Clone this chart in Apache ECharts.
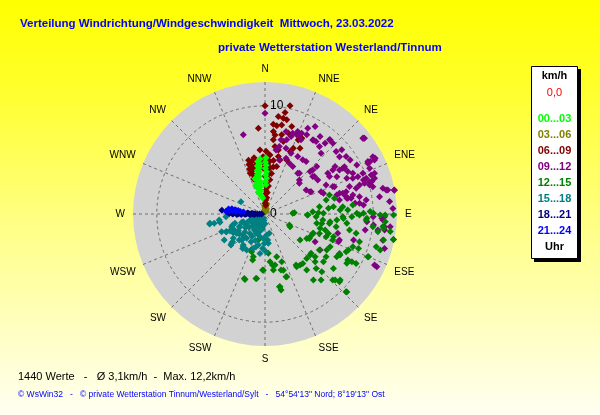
<!DOCTYPE html>
<html><head><meta charset="utf-8">
<script src="https://cdn.jsdelivr.net/npm/echarts@6/dist/echarts.min.js"></script>
<style>html,body{margin:0;padding:0;background:#fff;}#c{width:600px;height:415px;}</style>
</head><body><div id="c"></div>
<script>
// ---- texts ----
const titleLine1 = 'Verteilung Windrichtung/Windgeschwindigkeit  Mittwoch, 23.03.2022';
const titleLine2 = 'private Wetterstation Westerland/Tinnum';
const summaryText = '1440 Werte   -   \u00D8 3,1km/h  -  Max. 12,2km/h';
const footerText = '\u00A9 WsWin32   -   \u00A9 private Wetterstation Tinnum/Westerland/Sylt   -   54\u00B054\'13" Nord; 8\u00B019\'13" Ost';
const legendUnit = 'km/h';
const legendCalm = '0,0';
const legendFoot = 'Uhr';

// ---- axes ----
const directions = ['N','NNE','NE','ENE','E','ESE','SE','SSE','S','SSW','SW','WSW','W','WNW','NW','NNW'];
const radiusTicks = [0, 10];
const radiusMax = 12.2;

// ---- series: hour ranges ----
const hourLabels = ['00...03','03...06','06...09','09...12','12...15','15...18','18...21','21...24'];
const hourColors = ['#00ff00','#808000','#800000','#800080','#008000','#008080','#000080','#0000ff'];

// [speed km/h, direction deg]
const pts0003 = [[4.9,352],[4.7,354],[4.5,351],[4.3,353],[4.1,350],[3.9,352],[3.7,349],[3.5,351],[3.3,347],[3.1,349],
  [2.9,345],[2.7,348],[2.5,344],[2.3,347],[2.1,343],[1.9,346],[1.7,349],[1.5,352],[3.0,352],[2.6,351],[2.2,350],
  [3.4,344],[2.8,342],[4.8,0.5],[4.5,1.5],[4.2,0.5],[3.9,2],[3.6,1],[3.3,2.5],[3.0,1],[2.7,2],[5.1,355],[5.2,1]];
const pts0306 = [[0.15,0],[0.25,5],[0.35,355],[0.45,8],[0.55,2],[0.65,358],[0.75,6],[0.85,3],[0.95,10],[1.0,0],[0.5,15],[0.3,20]];
const pts0609 = [[10.0,0],[10.27,13],[9.56,11.2],[9.02,10.8],[9.1,7.8],[8.93,13],[8.34,5.3],[8.22,7.6],[8.38,10.6],[8.46,17],
  [7.96,355.6],[7.66,5.8],[7.37,7.2],[7.48,11.9],[7.78,16.1],[6.91,14.2],[6.9,6.4],[6.3,8.4],[6.05,11.8],[5.48,4.8],
  [5.45,13.1],[5.94,355.5],[7.5,24.2],[7.79,25.9],[6.89,28],[8.18,33.2],[6.62,23.3],[6.22,21.9],[5.39,21.9],[5.19,15.5],[4.51,13.8],
  [1.0,2],[1.3,3],[1.6,1],[1.9,3],[2.2,2],[2.5,4],[2.8,2],[3.1,4],[3.4,2],[3.7,5],[4.0,3],[4.3,6],[4.6,3],[4.9,5],[5.2,2],
  [5.5,4],[5.8,1],[2.0,6],[2.6,7],[3.2,8],[3.8,9],[4.4,10],[5.0,9],[3.5,0],[4.2,358],[4.8,357],[5.3,358],[0.8,5],[1.5,6],
  [5.2,343],[5.0,346],[4.8,342],[4.6,345],[4.4,341],[4.2,344],[4.0,340],[3.8,343],[3.6,346],[3.4,342],[5.3,349],[4.9,350],[4.5,348],[3.2,345]];
const pts0912 = [[7.01,12.2],[7.87,14.3],[7.55,18.6],[7.9,18.9],[8.2,21.6],[7.98,23.5],[7.62,25.9],[8.86,26.5],[8.15,32.8],[8.19,35.2],
  [8.01,38.9],[7.64,42.7],[9.08,41.0],[9.06,43.8],[8.75,48.7],[8.69,52.4],[9.19,54.7],[11.44,52.2],[8.55,59.2],[8.6,62.9],
  [8.95,65.1],[9.25,68.1],[9.8,67.4],[9.92,70.5],[10.46,69.8],[11.29,63.7],[11.29,62.0],[10.6,63.7],[10.55,66.4],[10.65,71.9],
  [10.11,72.8],[10.28,75.8],[9.63,72.8],[8.76,67.9],[8.21,72.0],[8.76,74.2],[7.78,74.6],[7.44,75.1],[6.76,68.0],[6.25,64.6],
  [6.89,59.9],[7.47,57.0],[8.0,59.4],[8.34,59.5],[5.8,57.2],[4.73,64.1],[4.47,45.3],[5.08,30.3],[5.2,25.7],[5.51,20.7],
  [5.17,14.9],[6.01,9.8],[6.37,12.0],[6.38,17.7],[6.11,23.2],[6.11,29.7],[6.1,34.9],[6.16,38.1],[6.01,47.3],[5.73,52.9],
  [5.58,68.3],[7.14,74.5],[7.67,77.9],[8.31,77.8],[8.88,79.6],[9.44,82.1],[11.15,77.7],[11.57,78.9],[12.15,79.5],[11.57,84.3],
  [11.83,87.5],[11.05,91.3],[11.15,97.6],[11.16,102.5],[11.5,106.1],[11.17,115.0],[7.29,109.3],[6.96,104.9],[7.79,79.3],[8.79,83.5],
  [10.0,91.4],[4.4,59.7],[4.93,40.2],
  [7.14,16.3],[7.88,21.8],[8.2,24.4],[8.27,27.8],[9.32,29.8],[8.79,35.4],[8.58,40.3],[9.12,41.3],[9.25,50.1],[11.49,52.4],
  [9.32,57.6],[9.62,61.9],[10.86,63.5],[11.41,63.2],[7.82,55.9],[6.49,47.5],[5.72,46.7],[7.48,62.5],[8.25,66.4],[9.63,70.9],
  [10.32,73.1],[7.59,344.7],[9.32,0],
  [11.56,52.7],[10.67,63],[10.8,69.6],[10.03,74.5],[9.14,73],[11.42,78.8],[12.15,79.6],[10.71,81.4],[10.91,92.9],[11.11,96.1],
  [10.54,98.1],[8.09,79.7],[7.0,79.3],[6.9,68.5],[8.48,60.1],[6.92,57],[5.61,51.9],[4.83,38.8],[4.26,48.2],
  [4.65,63.6],[5.73,70.5],[6.86,75.2],[7.7,79.1],[8.39,83.2],[9.14,84.8],[9.44,94.3],[10.08,95.8],[9.38,99.1],[7.26,110.7],
  [5.29,118.9],[6.09,123.2],[8.53,106.4],[11.43,115.3],[11.63,95.8],[10.81,92.1]];
const pts1215 = [[2.72,87.4],[3.92,91.4],[4.94,88.6],[5.4,89.3],[5.89,84.9],[6.36,83.9],[6.95,86.9],[7.26,93.2],[7.61,96.5],[8.03,91.8],
  [8.49,89.6],[9.1,89.6],[9.42,92.4],[9.72,88.7],[10.03,89.6],[10.65,90.5],[11.11,90.5],[11.88,90.4],[11.14,93.7],[11.04,96.9],
  [11.69,98],[12.1,101.2],[11.22,102.4],[11.16,107.4],[10.35,112.4],[9.21,110.2],[8.4,113.4],[9.16,118.8],[8.83,121.1],[7.91,118.7],
  [7.72,120.8],[8.08,128.5],[9.25,131.3],[10.44,133.6],[8.91,133.3],[6.98,129.3],[6.09,130.5],[5.64,132.3],[5.63,136.8],[5.73,145.5],
  [5.69,149],[6.46,143.4],[7.57,143.8],[7.49,135.5],[6.4,133.6],[6.61,120.3],[6.74,116.7],[6.67,108.4],[6.13,107],[5.75,104.9],
  [5.26,104.6],[4.82,111.8],[4.67,116.7],[4.47,120.3],[4.86,100.2],[5.32,99.4],[6.06,96.7],[6.66,94.8],[4.04,126.6],[2.6,116.9],
  [4.68,160.7],[5.46,161.9],[5.24,171.5],[4.81,168.9],[6.87,168.3],[3.65,175.2],[5.19,181.7],[6.01,187.4],[6.33,197],[2.49,194.4],
  [4.1,195.3],[3.7,199.5],[4.1,164.7],[6.14,160.9],[4.44,174],
  [3.58,201.3],[4.41,195],[6.26,197.8],[6.02,188],[5.19,182.4],[4.78,171.5],[5.39,164.1],[6.86,168.8],[7.19,168.1],[6.12,161.5],
  [5.53,148.7],[5.75,142.6],[6.9,136.8],[8.01,139.7],[8.75,134.3],[10.39,133.8],[9.31,132.3],[8.76,119.1],[9.58,118.5],[10.29,112.6],
  [10.71,106.4],[10.96,96.1],[12.1,101.2],[2.47,114.3],[3.95,91.3],[2.56,88.6],
  [6.21,73.5],[6.58,77.3],[7.22,84.6],[7.66,87.2],[8.16,84.1],[8.73,90.6],[9.37,93.4],[10.04,96.7],[10.56,98.9],[5.8,77.1],
  [5.08,82.3],[4.42,87.2],[4.73,93],[5.37,95.9],[6.02,98.3],[6.68,100.1],[6.03,110.4],[5.34,109.6],[4.76,112.1],[4.68,118.8],
  [5.6,130.5],[6.03,123.5],[6.89,125],[6.71,111],[7.79,117.9],[8.27,114.9],[8.66,110.4],[9.1,106.3],[8.61,102],[7.95,100.7],[7.2,92]];
const pts1518 = [[4.77,259.6],[5.2,259.8],[4.27,262.5],[3.62,266.1],[3.16,251.2],[3.2,242.4],[2.84,226.8],[3.38,224.6],[3.94,229.4],[3.96,245.6],
  [4.47,237.4],[4.26,227.6],[3.79,213],[2.87,206.8],[1.91,200.8],[1.19,190.4],[0.76,223.4],[1.43,232.9],[2.03,240.1],[2.65,243.7],
  [1.78,213.7],[2.72,181.3],[3.49,178.5],[3.19,183.9],[3.14,195.4],[0.67,213.7],[2.5,297.2],[2.71,277.9],[1.83,167.4],[2.42,174.1],
  [5.16,260.4],[4.23,259.7],[4.33,247.8],[3.91,245.3],[3.3,249.2],[2.91,252.7],[2.6,243.1],[2.13,250.5],[1.5,248.2],[0.95,234.2],
  [0.5,217.6],[3.18,235.7],[3.7,232.5],[4.11,228.7],[3.23,221.9],[2.82,217],[2.27,217.8],[1.75,212],[1.33,207.8],[2.15,192.4],
  [2.26,183.9],[1.95,175.5],[2.73,173.5],[2.94,192.1],[3.67,187.2],[3.36,198.8],[3.63,213.6],[3.74,207],
  [1.0,200],[1.2,215],[0.8,245],[1.6,225],[1.9,230],[2.2,235],[2.5,228],[2.0,205],[2.4,210],[2.8,225],[3.0,232],[1.4,190],
  [1.7,197],[0.6,190],[0.9,180],[1.1,225],[2.6,200],[3.4,240],[3.6,244],[1.3,240],[1.8,245],[2.3,250],[2.9,238],[0.7,260],
  [1.2,255],[3.1,222],[3.5,215],[0.4,200]];
const pts1821 = [[0.3,270],[0.5,271],[0.7,270],[0.9,272],[1.1,271],[1.3,270],[1.5,272],[1.7,271],[1.9,270],[2.1,272],[2.3,271],
  [2.5,270],[2.7,272],[2.9,271],[3.1,272],[3.3,271],[1.0,268],[1.4,268.5],[1.8,269],[2.2,268.5],[2.6,269],[3.0,270],[1.2,273],
  [1.6,273.5],[2.0,274],[2.4,273],[2.8,274],[3.2,274],[4.0,275],[3.5,273]];
const pts2124 = [[3.4,278],[3.1,279],[2.8,278],[2.5,277.5],[3.0,276],[2.7,275.5],[2.3,276],[3.3,275],[2.0,275],[3.6,274]];

const seriesPoints = [pts0003, pts0306, pts0609, pts0912, pts1215, pts1518, pts1821, pts2124];

// ---- chart ----
const chart = echarts.init(document.getElementById('c'));
const FONT = '"Liberation Sans", Arial, sans-serif';
const dashed = { color: '#6e6e6e', width: 1, type: [3, 3] };

const series = hourLabels.map((name, i) => ({
  name: name,
  type: 'scatter',
  coordinateSystem: 'polar',
  polarIndex: 1,
  symbol: 'diamond',
  symbolSize: 7,
  itemStyle: { color: hourColors[i], opacity: 1 },
  z: i === 0 ? 4 : 3,
  animation: false,
  data: seriesPoints[i]
}));

const legendX = 554.5;
const legendRowsY = [119, 135, 151, 167, 183, 198.5, 215, 231];
const legendTexts = hourLabels.map((t, i) => ({
  type: 'text', x: legendX, y: legendRowsY[i], z: 12,
  style: { text: t, fill: hourColors[i], font: 'bold 11px ' + FONT, textAlign: 'center', textVerticalAlign: 'middle' }
}));

chart.setOption({
  animation: false,
  backgroundColor: { type: 'linear', x: 0, y: 0, x2: 0, y2: 1,
    colorStops: [{ offset: 0, color: '#ffff00' }, { offset: 0.2, color: '#ffff2a' },
                 { offset: 0.55, color: '#ffff88' }, { offset: 1, color: '#fffff2' }] },
  title: [
    { text: titleLine1, left: 20, top: 18, padding: 0,
      textStyle: { color: '#0000ff', fontSize: 11.5, fontWeight: 'bold', fontFamily: FONT } },
    { text: titleLine2, left: 218, top: 42, padding: 0,
      textStyle: { color: '#0000ff', fontSize: 11.5, fontWeight: 'bold', fontFamily: FONT } }
  ],
  polar: [
    { center: [265, 214], radius: 132 },
    { center: [265, 214], radius: 132 }
  ],
  angleAxis: [
    { polarIndex: 0, type: 'value', min: 0, max: 360, interval: 22.5, startAngle: 90, clockwise: true, z: 0,
      axisLine: { show: false }, axisTick: { show: false }, axisLabel: { show: false }, splitLine: { show: false } },
    { polarIndex: 1, type: 'value', min: 0, max: 360, interval: 22.5, startAngle: 90, clockwise: true, z: 2,
      axisLine: { show: false }, axisTick: { show: false },
      axisLabel: { color: '#000', fontSize: 10, margin: 8, fontFamily: FONT,
        formatter: v => directions[Math.round(v / 22.5) % 16] },
      splitLine: { show: true, lineStyle: dashed } }
  ],
  radiusAxis: [
    { polarIndex: 0, type: 'value', min: 0, max: radiusMax, interval: 10, z: 0,
      axisLine: { show: false }, axisTick: { show: false }, axisLabel: { show: false }, splitLine: { show: false },
      splitArea: { show: true, areaStyle: { color: ['#d2d2d2'] } } },
    { polarIndex: 1, type: 'value', min: 0, max: radiusMax, interval: 10, z: 2,
      axisLine: { show: false }, axisTick: { show: false },
      axisLabel: { color: '#000', fontSize: 12, margin: -5, align: 'left', verticalAlign: 'middle', fontFamily: FONT,
        formatter: v => radiusTicks.indexOf(v) >= 0 ? String(v) : '' },
      splitLine: { show: true, lineStyle: { color: ['#6e6e6e', '#6e6e6e', 'rgba(0,0,0,0)'], width: 1, type: [3, 3] } },
      splitArea: { show: false } }
  ],
  series: series,
  graphic: [
    { type: 'rect', shape: { x: 534, y: 69, width: 47, height: 193 }, style: { fill: '#000' }, z: 10 },
    { type: 'rect', shape: { x: 531.5, y: 66.5, width: 46, height: 192 }, style: { fill: '#fff', stroke: '#000', lineWidth: 1 }, z: 11 },
    { type: 'text', x: legendX, y: 76, z: 12,
      style: { text: legendUnit, fill: '#000', font: 'bold 11px ' + FONT, textAlign: 'center', textVerticalAlign: 'middle' } },
    { type: 'text', x: legendX, y: 93, z: 12,
      style: { text: legendCalm, fill: '#ff0000', font: '11px ' + FONT, textAlign: 'center', textVerticalAlign: 'middle' } },
    ...legendTexts,
    { type: 'text', x: legendX, y: 247, z: 12,
      style: { text: legendFoot, fill: '#000', font: 'bold 11px ' + FONT, textAlign: 'center', textVerticalAlign: 'middle' } },
    { type: 'text', x: 18, y: 377, z: 12,
      style: { text: summaryText, fill: '#000', font: '11px ' + FONT, textAlign: 'left', textVerticalAlign: 'middle' } },
    { type: 'text', x: 18, y: 394.5, z: 12,
      style: { text: footerText, fill: '#0000ff', font: '8.5px ' + FONT, textAlign: 'left', textVerticalAlign: 'middle' } }
  ]
});
</script>
</body></html>
